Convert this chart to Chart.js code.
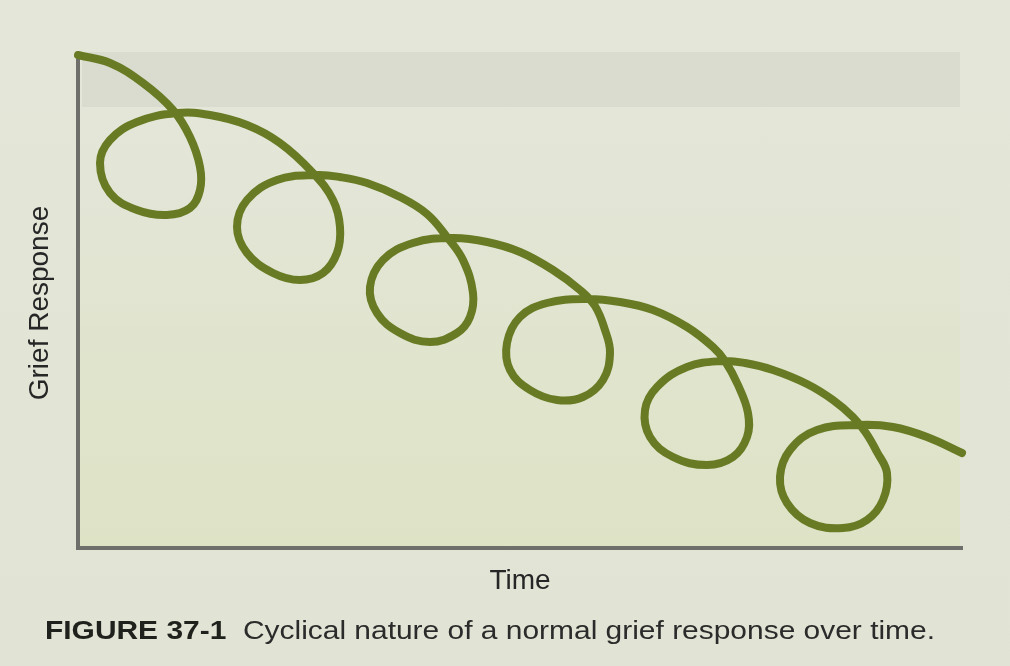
<!DOCTYPE html>
<html>
<head>
<meta charset="utf-8">
<script src="https://cdn.jsdelivr.net/npm/chart.js@4/dist/chart.umd.min.js"></script>
<style>
  html, body { margin: 0; padding: 0; }
  body {
    width: 1010px; height: 666px; overflow: hidden; position: relative;
    background: linear-gradient(180deg, #e4e6d9 0%, #e2e5d5 60%, #e1e3d4 100%);
    font-family: "Liberation Sans", Arial, sans-serif;
  }
  .band { position: absolute; left: 82px; width: 878px; top: 52px; height: 55px; background: rgba(150,155,140,0.13); }
  .panel { position: absolute; left: 80px; width: 880px; top: 160px; height: 386px;
    background: linear-gradient(180deg, rgba(215,222,190,0.0) 0%, rgba(215,225,170,0.35) 100%); }
  #wrap { position: absolute; left: 0; top: 0; width: 1010px; height: 666px; }
  #caption { position: absolute; left: 45px; top: 615px; white-space: nowrap; font-size: 25px; color: #2b2b2b;
    transform-origin: 0 0; line-height: 30px; }
  #caption b { color: #1f221c; }
</style>
</head>
<body>
<div class="band"></div>
<div class="panel"></div>
<div id="wrap"><canvas id="c" width="1010" height="666"></canvas></div>
<div id="caption"><b>FIGURE 37-1</b>&nbsp; Cyclical nature of a normal grief response over time.</div>
<script>
// Time (x) and Grief Response (y) values, in plot units
const timeValues = [0, 32, 65, 95, 112, 122, 122, 112, 89, 59, 32, 22, 32, 59, 99, 132, 169, 202, 235, 255,
  262, 259, 245, 222, 195, 169, 159, 169, 199, 239, 262, 289, 322, 349, 369, 385, 395, 392, 379, 352,
  322, 299, 292, 305, 335, 375, 409, 442, 475, 502, 517, 527, 532, 525, 505, 479, 452, 432, 429, 442,
  469, 509, 542, 575, 609, 635, 647, 660, 670, 669, 655, 629, 595, 572, 567, 579, 609, 645, 667, 695,
  729, 755, 775, 788, 799, 809, 805, 789, 765, 732, 709, 702, 712, 739, 782, 815, 849, 884];
const responseValues = [493, 485, 465, 438, 411, 381, 358, 340, 333, 338, 355, 385, 408, 426, 435, 433, 423, 405, 375, 348,
  321, 295, 275, 268, 275, 295, 321, 348, 368, 373, 371, 365, 351, 334, 311, 288, 255, 231, 215, 206,
  215, 235, 261, 288, 305, 310, 306, 296, 278, 258, 242, 218, 195, 168, 151, 148, 158, 178, 205, 231,
  245, 249, 246, 238, 221, 201, 187, 163, 135, 111, 91, 83, 91, 111, 138, 161, 181, 187, 185, 178,
  164, 148, 131, 115, 96, 75, 48, 28, 20, 25, 45, 71, 98, 118, 123, 121, 111, 95];
const xTitle = "Time";
const yTitle = "Grief Response";
const xRange = [0, 884];
const yRange = [0, 490];

const points = timeValues.map((t, i) => ({ x: t, y: responseValues[i] }));

new Chart(document.getElementById('c'), {
  type: 'scatter',
  data: {
    datasets: [{
      data: points,
      showLine: true,
      borderColor: '#687b24',
      borderWidth: 8,
      borderCapStyle: 'round',
      borderJoinStyle: 'round',
      pointRadius: 0,
      pointHoverRadius: 0,
      tension: 0.4,
      clip: false,
      fill: false
    }]
  },
  options: {
    responsive: false,
    animation: false,
    events: [],
    layout: { padding: { left: 23.2, right: 48, top: 58, bottom: 68.2 } },
    plugins: { legend: { display: false }, tooltip: { enabled: false }, title: { display: false } },
    scales: {
      x: {
        type: 'linear', min: xRange[0], max: xRange[1],
        grid: { display: false, drawTicks: false },
        ticks: { display: false },
        border: { display: true, color: '#6e6e6b', width: 4 },
        title: { display: true, text: xTitle, color: '#262626',
          font: { family: '"Liberation Sans", Arial, sans-serif', size: 28, lineHeight: 1.2 },
          padding: { top: 16.2, bottom: 0 } }
      },
      y: {
        type: 'linear', min: yRange[0], max: yRange[1],
        grid: { display: false, drawTicks: false },
        ticks: { display: false },
        border: { display: true, color: '#6e6e6b', width: 4 },
        title: { display: true, text: yTitle, color: '#262626',
          font: { family: '"Liberation Sans", Arial, sans-serif', size: 28, lineHeight: 1.2 },
          padding: { top: 0, bottom: 21.2 } }
      }
    }
  }
});

const cap = document.getElementById('caption');
const w = cap.getBoundingClientRect().width;
cap.style.transform = 'scaleX(' + (890 / w) + ')';
</script>
</body>
</html>
